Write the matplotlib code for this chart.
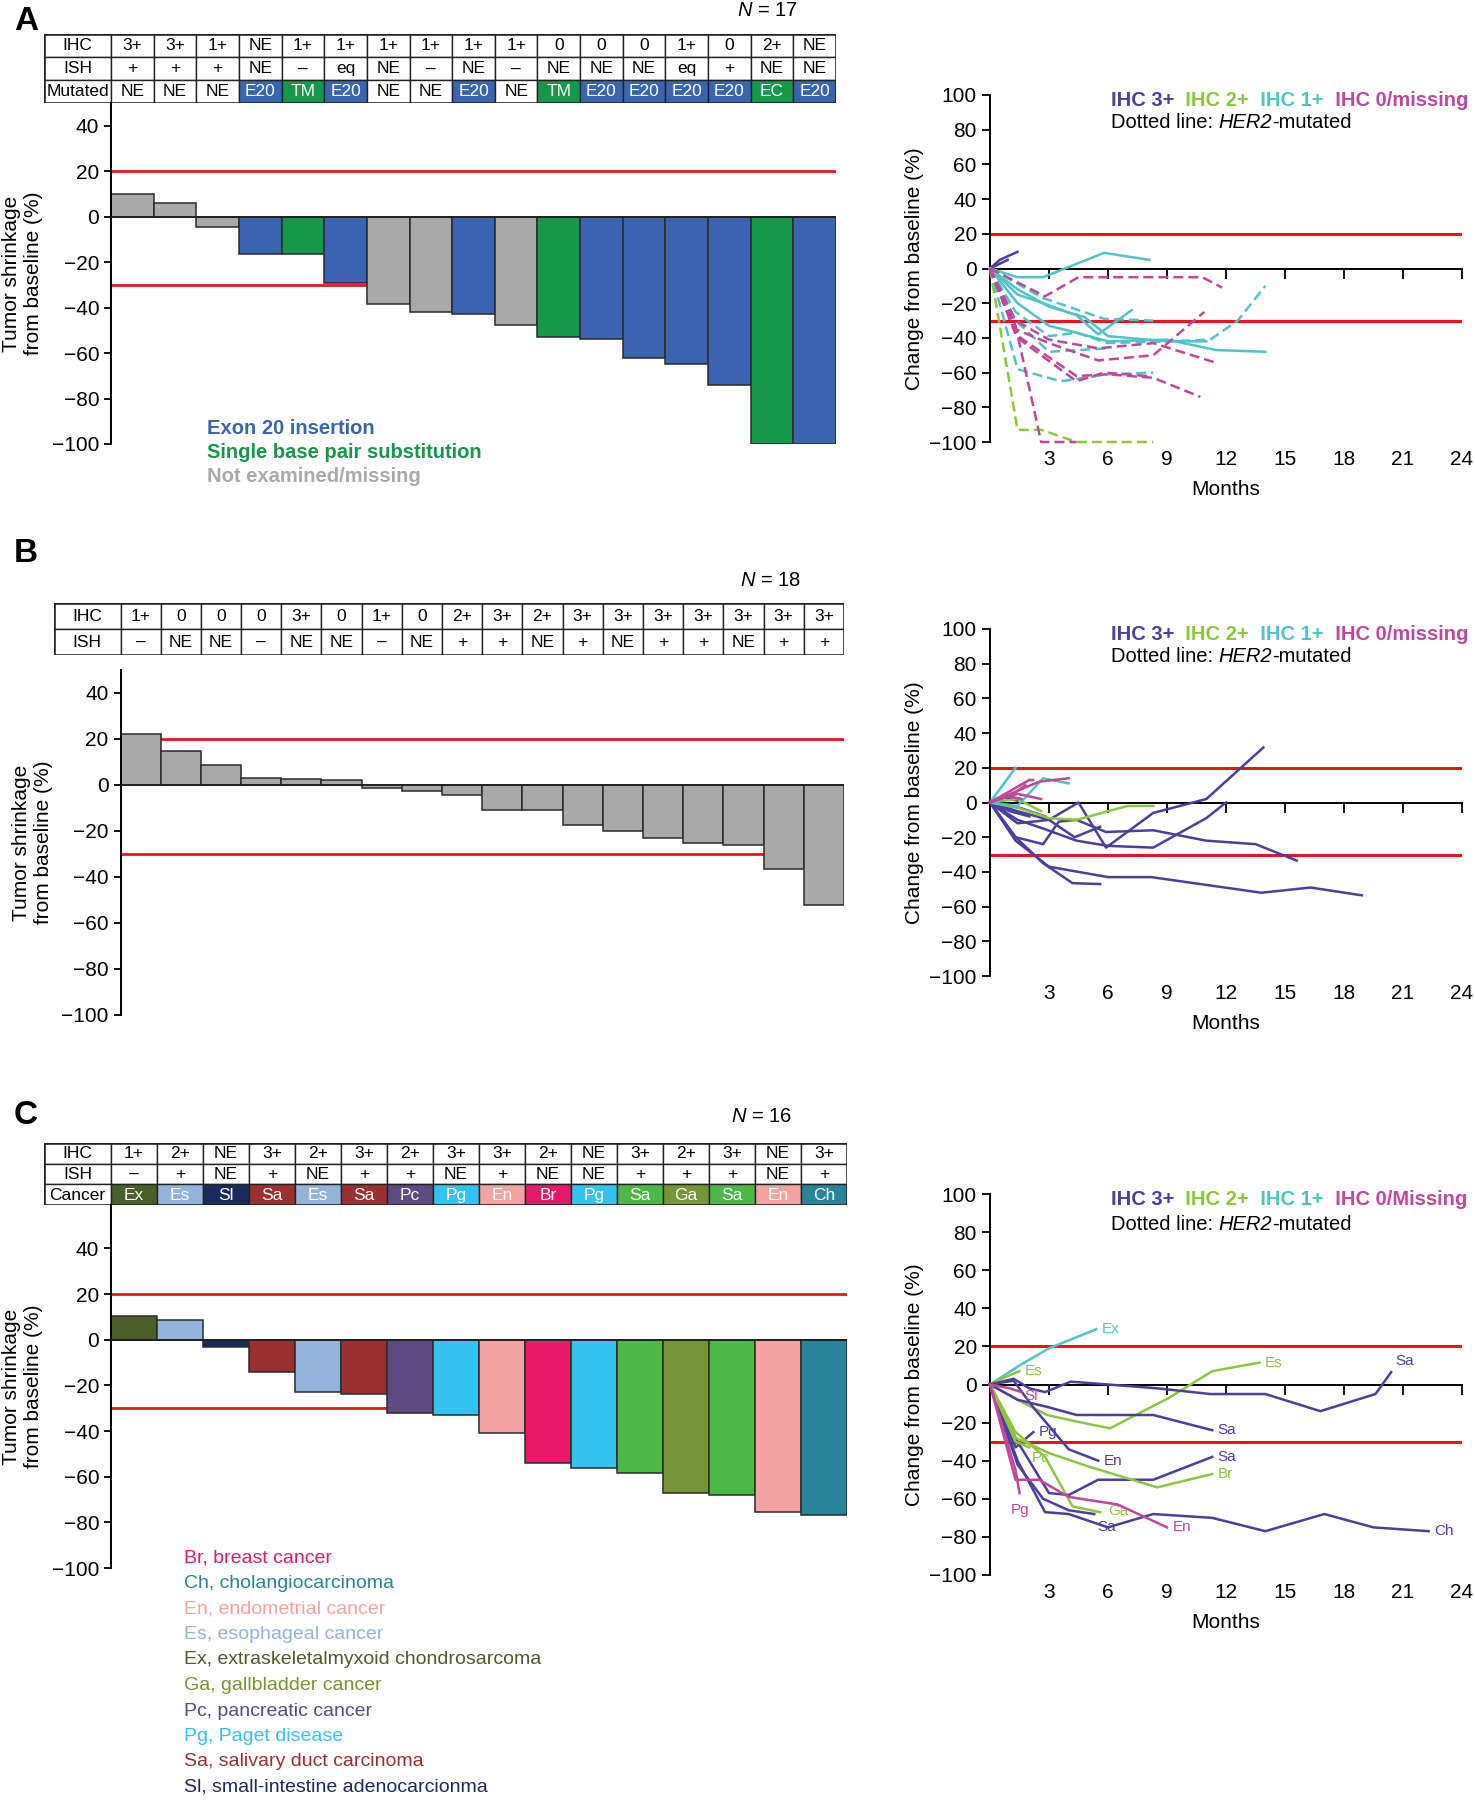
import numpy as np
import matplotlib.pyplot as plt
from matplotlib.patches import Rectangle

plt.rcParams['font.family'] = ['Liberation Sans', 'DejaVu Sans']
plt.rcParams['mathtext.fontset'] = 'custom'
plt.rcParams['mathtext.it'] = 'Liberation Sans:italic'
plt.rcParams['mathtext.rm'] = 'Liberation Sans'

W, H = 1475, 1800
RED = '#E8161C'
BLUE = '#3A64B0'
GREEN = '#16984A'
GREY = '#A9A9A9'
IHC_COLORS = {'3+': '#4A3FA0', '2+': '#8CC63E', '1+': '#4EC4C6', '0': '#BF479C'}

# ---------------- panel A ----------------
a_ihc = ['3+', '3+', '1+', 'NE', '1+', '1+', '1+', '1+', '1+', '1+', '0', '0', '0', '1+', '0', '2+', 'NE']
a_ish = ['+', '+', '+', 'NE', '–', 'eq', 'NE', '–', 'NE', '–', 'NE', 'NE', 'NE', 'eq', '+', 'NE', 'NE']
a_mut = ['NE', 'NE', 'NE', 'E20', 'TM', 'E20', 'NE', 'NE', 'E20', 'NE', 'TM', 'E20', 'E20', 'E20', 'E20', 'EC', 'E20']
a_change = [10, 6, -4.5, -16.5, -16.5, -29, -38.5, -42, -43, -47.5, -53, -54, -62, -65, -74, -100, -100]
mut_colors = {'E20': BLUE, 'TM': GREEN, 'EC': GREEN, 'NE': GREY}

a_sp_months = [[0, 0.5, 1.4], [0, 0.9],
               [0, 1.4, 2.6, 4.4, 8.3],
               [0, 1.4, 2.7, 5.8, 8.1], [0, 1.4, 2.7, 4.4, 5.5, 7.2],
               [0, 1.4, 3, 4.4, 6, 9, 11.5, 14], [0, 1.4, 3, 4.8, 6, 9, 11],
               [0, 2.7, 5.8, 8.3], [0, 1.3, 3, 4.4, 6, 9, 11.2, 12.6, 14],
               [0, 1.4, 3.6, 6, 8.3], [0, 1.3, 3, 6],
               [0, 2.8, 4.5, 10.8, 11.8], [0, 1.3, 3, 5.5, 8.3, 10.9],
               [0, 1.3, 3, 5.5, 8.3, 11.4], [0, 1.3, 4.4, 6, 8.3, 10.7],
               [0, 1.3, 2.6, 4.4], [0, 1.4, 4.4, 5.8, 8]]
a_sp_vals = [[0, 5, 9.6], [0, 5],
             [0, -93, -93, -100, -100],
             [0, -5, -5, 9, 5], [0, -15, -20, -27, -38, -24],
             [0, -20, -33, -37, -42, -41, -47, -48], [0, -12, -22, -28, -39, -42, -42],
             [0, -17, -29, -30], [0, -25, -39, -37, -43, -42, -41, -30, -10],
             [0, -58, -65, -61, -60], [0, -30, -48, -46],
             [0, -16, -5, -5, -11], [0, -35, -43, -53, -50, -25],
             [0, -30, -41, -46, -43, -54], [0, -38, -62, -61, -63, -74],
             [0, -33, -100, -100], [0, -40, -65, -60, -62]]
a_sp_ihc = ['3+', '3+', '2+', '1+', '1+', '1+', '1+', '1+', '1+', '1+', '1+',
            '0', '0', '0', '0', '0', '0']
a_sp_mut = [False, False, True, False, False, False, False, True, True, True, True,
            True, True, True, True, True, True]

# ---------------- panel B ----------------
b_ihc = ['1+', '0', '0', '0', '3+', '0', '1+', '0', '2+', '3+', '2+', '3+', '3+', '3+', '3+', '3+', '3+', '3+']
b_ish = ['–', 'NE', 'NE', '–', 'NE', 'NE', '–', 'NE', '+', '+', 'NE', '+', 'NE', '+', '+', 'NE', '+', '+']
b_change = [22, 15, 8.5, 3, 2.5, 2, -1.5, -2.5, -4.5, -11, -11, -17.5, -20, -23, -25, -26, -36.5, -52]

b_sp_months = [[0, 1.3, 3, 6, 8.2, 13.8, 16.3, 18.9], [0, 1.3, 2.7, 4.2, 5.6],
               [0, 1.3, 2.7, 3.5, 4.4, 5.9, 8.3, 11, 13.5, 15.6],
               [0, 1.4, 3, 4.5, 5.9, 8.3, 11, 13.9],
               [0, 1.4, 2.7, 4.4, 6, 8.3, 11, 12],
               [0, 1.4, 3, 4.3, 5.6], [0, 1, 2], [0, 1.5, 2.8], [0, 0.7, 1.4],
               [0, 1.4, 3, 4.4, 6, 7, 8.3], [0, 1.4, 2.6],
               [0, 1.3], [0, 1.4, 2.7, 4],
               [0, 2, 2.2], [0, 1.4, 2.6], [0, 2.5, 4], [0, 0.8, 1.6], [0, 1.3, 1.8]]
b_sp_vals = [[0, -22, -37, -43, -43, -52, -49, -53.5], [0, -20, -35, -46.5, -47],
             [0, -20, -24, -11, -10, -17, -16, -22, -24, -33.5],
             [0, -5, -10, 0, -26, -6, 2, 31.7],
             [0, -10, -15, -22, -25, -26, -9, 0],
             [0, -12, -10, -20, -14], [0, -5, -8], [0, -3, -8], [0, 3, 1],
             [0, -3, -9, -10, -5, -2, -2], [0, 2, -5],
             [0, 20], [0, -2, 14, 11],
             [0, 13, 13], [0, 5, 2], [0, 12, 14], [0, 4, 2], [0, 6, 10]]
b_sp_ihc = ['3+'] * 9 + ['2+'] * 2 + ['1+'] * 2 + ['0'] * 5
b_sp_mut = [False] * 18

# ---------------- panel C ----------------
c_ihc = ['1+', '2+', 'NE', '3+', '2+', '3+', '2+', '3+', '3+', '2+', 'NE', '3+', '2+', '3+', 'NE', '3+']
c_ish = ['–', '+', 'NE', '+', 'NE', '+', '+', 'NE', '+', 'NE', 'NE', '+', '+', '+', 'NE', '+']
c_cancer = ['Ex', 'Es', 'Sl', 'Sa', 'Es', 'Sa', 'Pc', 'Pg', 'En', 'Br', 'Pg', 'Sa', 'Ga', 'Sa', 'En', 'Ch']
c_change = [10.5, 8.5, -3, -14, -23, -24, -32, -33, -41, -54, -56, -58.5, -67, -68, -75.5, -77]
cancer_names = ['Br, breast cancer', 'Ch, cholangiocarcinoma', 'En, endometrial cancer',
                'Es, esophageal cancer', 'Ex, extraskeletalmyxoid chondrosarcoma',
                'Ga, gallbladder cancer', 'Pc, pancreatic cancer', 'Pg, Paget disease',
                'Sa, salivary duct carcinoma', 'Sl, small-intestine adenocarcionma']
cancer_colors = {'Br': '#E8196A', 'Ch': '#2A8499', 'En': '#F4A3A3', 'Es': '#93B3DB',
                 'Ex': '#4A5E2A', 'Ga': '#789438', 'Pc': '#5C4A80', 'Pg': '#33C3F0',
                 'Sa': '#9B3030', 'Sl': '#1B2A5C'}
# bars/cells as printed (two Sa cells are drawn in bright green in the original)
c_colors = [cancer_colors[k] for k in c_cancer]
c_colors[11] = '#4DB848'
c_colors[13] = '#4DB848'

c_sp_months = [[0, 1.5, 3, 5.4], [0, 0.8, 1.5],
               [0, 1.4, 2.9, 4.2, 6.1, 9.1, 11.3, 13.7],
               [0, 1.2, 2, 2.8, 4.1, 6, 8.5, 11.2, 14, 16.8, 19.6, 20.4],
               [0, 1.4, 3, 4.4, 6, 8.3, 11.3], [0, 1.4, 3, 4, 5.5, 8.3, 11.3],
               [0, 1.4, 2.8, 4, 6, 8.3, 11.3, 14, 17, 19.5, 22.3],
               [0, 1.4, 2.7, 4, 5.3], [0, 1.2, 2.2, 4, 5.5], [0, 1.3, 2.2],
               [0, 1.3, 3, 5, 8.5, 11.3], [0, 1.3, 2.8, 4.2, 5.6], [0, 1.3, 2],
               [0, 1.3, 1.5], [0, 1.3, 2.5, 4, 6.5, 9], [0, 1, 1.6]]
c_sp_vals = [[0, 10, 19, 29], [0, 4, 7],
             [0, -8, -16, -19, -23, -7, 7, 11.5],
             [0, 3, -2, -4, 1.5, 0, -2, -5, -5, -14, -5, 6.5],
             [0, -8, -12, -16, -16, -16, -24], [0, -30, -57, -58, -50, -50, -38],
             [0, -40, -67, -68, -75, -68, -70, -77, -68, -75, -77],
             [0, -42, -60, -66, -68], [0, 2, -12, -34, -40], [0, -33, -25],
             [0, -28, -36, -43, -54, -47], [0, -25, -38, -64, -67], [0, -30, -33],
             [0, -45, -57], [0, -50, -50, -59, -63, -75], [0, -2, -4]]
c_sp_ihc = ['1+', '2+', '2+', '3+', '3+', '3+', '3+', '3+', '3+', '3+',
            '2+', '2+', '2+', '0', '0', '0']
c_sp_labels = ['Ex', 'Es', 'Es', 'Sa', 'Sa', 'Sa', 'Ch', 'Sa', 'En', 'Pg',
               'Br', 'Ga', 'Pc', 'Pg', 'En', 'Sl']
c_sp_mut = [False] * 16
# label nudges (points) for crowded end points
c_label_offsets = {3: (3, 8), 7: (2, -9), 11: (6, 1), 12: (2, -8), 13: (-6, -12), 15: (2, -3)}


fig = plt.figure(figsize=(W / 100, H / 100), dpi=100)


def add_ax(x0, y0, x1, y1):
    return fig.add_axes([x0 / W, 1 - y1 / H, (x1 - x0) / W, (y1 - y0) / H])


def draw_table(box, data_left, labels, rows, fills):
    x0, y0, x1, y1 = box
    ax = add_ax(x0, y0, x1, y1)
    n = len(rows[0])
    lw = (data_left - x0) / ((x1 - data_left) / n)
    ax.set_xlim(-lw, n)
    ax.set_ylim(len(rows), 0)
    ax.axis('off')
    for r, (lab, row) in enumerate(zip(labels, rows)):
        ax.add_patch(Rectangle((-lw, r), lw, 1, fc='white', ec='#222222', lw=1))
        ax.text(-lw / 2, r + 0.52, lab, ha='center', va='center', fontsize=12.5)
        for c, val in enumerate(row):
            fc = fills[r][c] if fills[r] else 'white'
            tc = 'black' if fc == 'white' else 'white'
            ax.add_patch(Rectangle((c, r), 1, 1, fc=fc, ec='#222222', lw=1))
            ax.text(c + 0.5, r + 0.52, val, ha='center', va='center', fontsize=12.5, color=tc)
    ax.add_patch(Rectangle((-lw, 0), lw + n, len(rows), fc='none', ec='#222222', lw=1.8))


def draw_waterfall(box, vals, colors, top):
    ax = add_ax(*box)
    x = np.arange(len(vals))
    ax.bar(x, vals, width=1, align='edge', color=colors, edgecolor='#2a2a2a', lw=1.1, zorder=2)
    ax.axhline(20, color=RED, lw=2, zorder=1)
    ax.axhline(-30, color=RED, lw=2, zorder=1)
    ax.axhline(0, color='#222222', lw=1.4, zorder=3)
    ax.set_xlim(0, len(vals))
    ax.set_ylim(-100, top)
    for s in ['top', 'right', 'bottom']:
        ax.spines[s].set_visible(False)
    ax.spines['left'].set_linewidth(1.4)
    ax.set_xticks([])
    ax.set_yticks(range(-100, 41, 20))
    ax.tick_params(axis='y', labelsize=15, length=5, width=1.3)
    ax.set_ylabel('Tumor shrinkage\nfrom baseline (%)', fontsize=15, labelpad=6)
    return ax


def draw_spider(box, months, vals, ihc, mut, last_label, labels=None, offsets=None):
    ax = add_ax(*box)
    ax.axhline(20, color=RED, lw=2.2, zorder=1)
    ax.axhline(-30, color=RED, lw=2.2, zorder=1)
    for i, (m, v, g, d) in enumerate(zip(months, vals, ihc, mut)):
        col = IHC_COLORS[g]
        ax.plot(m, v, color=col, lw=1.8, ls=(0, (4, 2)) if d else '-', clip_on=False, zorder=3)
        if labels:
            off = offsets.get(i, (4, 0))
            ax.annotate(labels[i], (m[-1], v[-1]), xytext=off, textcoords='offset points',
                        color=col, fontsize=11, va='center', ha='left')
    ax.set_xlim(0, 24)
    ax.set_ylim(-100, 100)
    ax.spines['top'].set_visible(False)
    ax.spines['right'].set_visible(False)
    ax.spines['bottom'].set_position(('data', 0))
    ax.spines['bottom'].set_linewidth(1.4)
    ax.spines['left'].set_linewidth(1.4)
    ax.set_xticks(range(3, 25, 3))
    ax.tick_params(axis='x', labelbottom=False, length=7, width=1.3)
    ax.set_yticks(range(-100, 101, 20))
    ax.tick_params(axis='y', labelsize=15, length=6, width=1.3)
    sec = ax.secondary_xaxis('bottom')
    sec.set_xticks(range(3, 25, 3))
    sec.tick_params(length=0, labelsize=15, pad=6)
    sec.spines['bottom'].set_visible(False)
    sec.set_xlabel('Months', fontsize=15, labelpad=8)
    ax.set_ylabel('Change from baseline (%)', fontsize=15, labelpad=4)

    t = ax.text(0.256, 0.985, 'IHC 3+', color=IHC_COLORS['3+'], transform=ax.transAxes,
                fontsize=14.5, fontweight='bold', va='center', ha='left')
    for lab, g in [('IHC 2+', '2+'), ('IHC 1+', '1+'), (last_label, '0')]:
        t = ax.annotate('  ' + lab, xy=(1, 0), xycoords=t, va='bottom', ha='left',
                        color=IHC_COLORS[g], fontsize=14.5, fontweight='bold')
    t = ax.text(0.256, 0.92, 'Dotted line: ', transform=ax.transAxes,
                fontsize=14.5, va='center', ha='left')
    t = ax.annotate('HER2', xy=(1, 0), xycoords=t, va='bottom', ha='left',
                    fontsize=14.5, style='italic')
    ax.annotate('-mutated', xy=(1, 0), xycoords=t, va='bottom', ha='left', fontsize=14.5)
    return ax


# ---- panel A ----
fig.text(14 / W, 1 - 21 / H, 'A', fontsize=24, fontweight='bold', va='center')
fig.text(767 / W, 1 - 11 / H, '$N$ = 17', fontsize=14.5, va='center', ha='center')
draw_table((44, 34, 836, 103), 111, ['IHC', 'ISH', 'Mutated'], [a_ihc, a_ish, a_mut],
           [None, None, [mut_colors[k] if k != 'NE' else 'white' for k in a_mut]])
draw_waterfall((111, 103, 836, 444), a_change, [mut_colors[k] for k in a_mut], 50)
for i, (txt, col) in enumerate([('Exon 20 insertion', BLUE),
                                 ('Single base pair substitution', GREEN),
                                 ('Not examined/missing', GREY)]):
    fig.text(207 / W, 1 - (428 + 24 * i) / H, txt, color=col, fontsize=14.5,
             fontweight='bold', va='center')
draw_spider((990, 95, 1462, 442), a_sp_months, a_sp_vals, a_sp_ihc, a_sp_mut, 'IHC 0/missing')

# ---- panel B ----
fig.text(14 / W, 1 - 553 / H, 'B', fontsize=24, fontweight='bold', va='center')
fig.text(771 / W, 1 - 580 / H, '$N$ = 18', fontsize=14.5, va='center', ha='center')
draw_table((54, 603, 844, 655), 120.5, ['IHC', 'ISH'], [b_ihc, b_ish], [None, None])
draw_waterfall((120.5, 670, 844, 1015), b_change, GREY, 50)
draw_spider((990, 629, 1462, 976), b_sp_months, b_sp_vals, b_sp_ihc, b_sp_mut, 'IHC 0/missing')

# ---- panel C ----
fig.text(14 / W, 1 - 1116 / H, 'C', fontsize=24, fontweight='bold', va='center')
fig.text(762 / W, 1 - 1116 / H, '$N$ = 16', fontsize=14.5, va='center', ha='center')
draw_table((44, 1143, 847, 1205), 111, ['IHC', 'ISH', 'Cancer'], [c_ihc, c_ish, c_cancer],
           [None, None, c_colors])
draw_waterfall((111, 1205, 847, 1568), c_change, c_colors, 59)
for i, name in enumerate(cancer_names):
    fig.text(184 / W, 1 - (1558 + 25.5 * i) / H, name, color=cancer_colors[name[:2]],
             fontsize=14, va='center')
draw_spider((990, 1194, 1462, 1575), c_sp_months, c_sp_vals, c_sp_ihc, c_sp_mut,
            'IHC 0/Missing', labels=c_sp_labels, offsets=c_label_offsets)

fig.savefig('out.png', dpi=100)
